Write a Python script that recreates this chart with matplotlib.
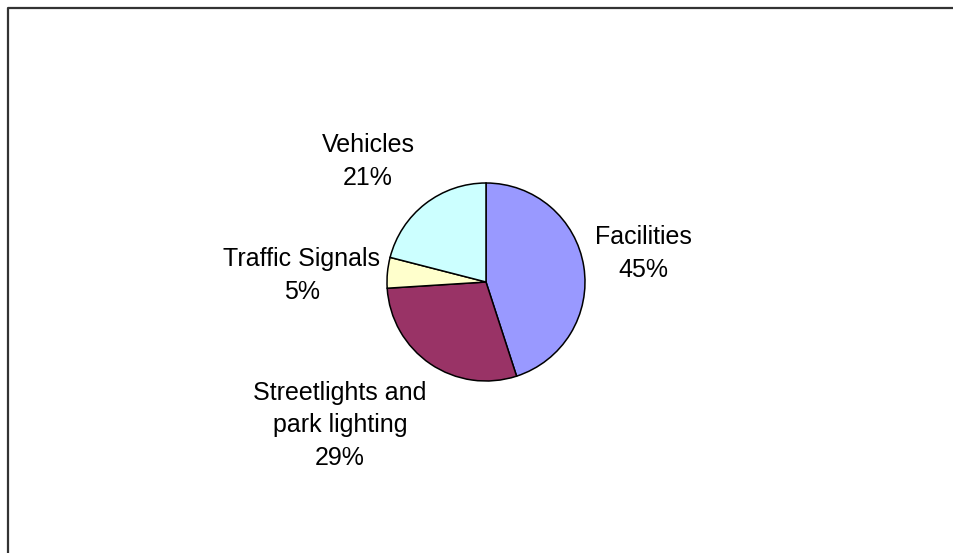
import matplotlib
matplotlib.use("Agg")
import matplotlib.pyplot as plt
from matplotlib.lines import Line2D

plt.rcParams['font.family'] = ['Liberation Sans', 'DejaVu Sans']

# Energy use by category (percent of total)
categories = ["Facilities", "Streetlights and\npark lighting", "Traffic Signals", "Vehicles"]
shares = [45, 29, 5, 21]
colors = ["#9999FF", "#993366", "#FFFFCC", "#CCFFFF"]

W, H = 954, 553
fig = plt.figure(figsize=(W / 100, H / 100), dpi=100)
ax = fig.add_axes([0, 0, 1, 1])

# pie in pixel units, clockwise from 12 o'clock
cx, cy, r = 486, H - 282, 99
ax.pie(shares, colors=colors, startangle=90, counterclock=False,
       center=(cx, cy), radius=r, frame=True,
       wedgeprops=dict(edgecolor='black', linewidth=1.1))
ax.set_xlim(0, W)
ax.set_ylim(0, H)
ax.set_aspect('equal')
ax.axis('off')

# label anchors (last-line baseline, pixels from top)
label_pos = [(643, 277), (340, 465), (302, 299), (368, 185)]
for name, val, (lx, ly) in zip(categories, shares, label_pos):
    ax.text(lx, H - ly, f"{name}\n{val}%", ha='center', va='baseline',
            multialignment='center', fontsize=18, linespacing=1.45, color='black')

# chart-area border, open on right and bottom
fig.add_artist(Line2D([8 / W, 8 / W, 1], [0, 1 - 8 / H, 1 - 8 / H],
                      transform=fig.transFigure, color='#333333', linewidth=1.6))

fig.savefig("out.png", dpi=100, facecolor='white')
